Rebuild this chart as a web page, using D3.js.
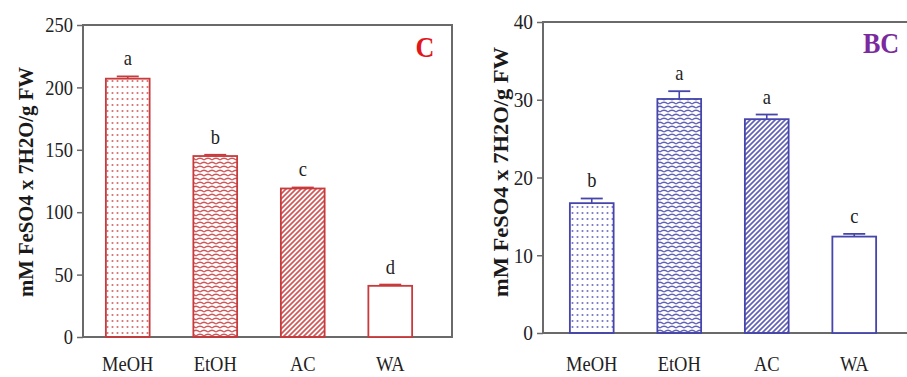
<!DOCTYPE html>
<html><head><meta charset="utf-8">
<script src="https://cdn.jsdelivr.net/npm/d3@7/dist/d3.min.js"></script>
<style>html,body{margin:0;padding:0;background:#fff}svg{display:block}</style>
</head><body>
<svg id="chart" width="907" height="377"></svg>
<script>
const categories = ["MeOH", "EtOH", "AC", "WA"];
const valuesC = [207, 145, 119, 41];
const errorsC = [1.8, 1.0, 0.8, 1.0];
const lettersC = ["a", "b", "c", "d"];
const ticksC = [0, 50, 100, 150, 200, 250];
const valuesBC = [16.7, 30.1, 27.5, 12.4];
const errorsBC = [0.6, 1.0, 0.6, 0.35];
const lettersBC = ["b", "a", "a", "c"];
const ticksBC = [0, 10, 20, 30, 40];
const patternNames = ["dots", "scales", "hatch", "none"];
const yTitle = "mM FeSO4 x 7H2O/g FW";

const svg = d3.select("#chart");
const defs = svg.append("defs");
const SERIF = "'Liberation Serif','Times New Roman',serif";

function makePatterns(id, color) {
  const d = defs.append("pattern").attr("id", id + "-dots").attr("patternUnits", "userSpaceOnUse")
    .attr("width", 5).attr("height", 6);
  d.append("circle").attr("cx", 2.5).attr("cy", 3).attr("r", 1.05).attr("fill", color).attr("opacity", 0.75);
  const s = defs.append("pattern").attr("id", id + "-scales").attr("patternUnits", "userSpaceOnUse")
    .attr("width", 8).attr("height", 8);
  s.append("path").attr("d", "M0,4 Q4,0.5 8,4 M-4,8 Q0,4.5 4,8 M4,8 Q8,4.5 12,8 M-4,0 Q0,-3.5 4,0 M4,0 Q8,-3.5 12,0")
    .attr("fill", "none").attr("stroke", color).attr("stroke-width", 1.3).attr("opacity", 0.85);
  const h = defs.append("pattern").attr("id", id + "-hatch").attr("patternUnits", "userSpaceOnUse")
    .attr("width", 5).attr("height", 5);
  h.append("path").attr("d", "M-1,6 L6,-1 M-1,1 L1,-1 M4,6 L6,4")
    .attr("stroke", color).attr("stroke-width", 1.7).attr("opacity", 0.85);
}
makePatterns("red", "#c83a3c");
makePatterns("blue", "#4545ac");

function sText(g, x, y, txt, size, opts = {}) {
  const t = g.append("text")
    .attr("transform", `translate(${x},${y}) scale(${opts.sx || 0.88},1)`)
    .attr("font-family", SERIF).attr("font-size", size)
    .attr("font-weight", opts.bold ? "bold" : "normal")
    .attr("text-anchor", opts.anchor || "middle")
    .attr("fill", opts.fill || "#222")
    .text(txt);
  return t;
}

function panel(cfg) {
  const g = svg.append("g");
  const x = d3.scaleBand().domain(categories).range(cfg.xRange).paddingInner(0.5).paddingOuter(0.25);
  const y = d3.scaleLinear().domain([0, cfg.ticks[cfg.ticks.length - 1]]).range([cfg.bottom, cfg.top]);
  const frameColor = "#6a6a6a";
  g.append("rect").attr("x", cfg.left).attr("y", cfg.top)
    .attr("width", cfg.right - cfg.left).attr("height", cfg.bottom - cfg.top)
    .attr("fill", "none").attr("stroke", frameColor).attr("stroke-width", 2);
  const ax = g.append("g").attr("transform", `translate(${cfg.left},0)`)
    .call(d3.axisLeft(y).tickValues(cfg.ticks).tickSize(6).tickFormat(""));
  ax.select(".domain").remove();
  ax.selectAll("line").attr("stroke", frameColor).attr("stroke-width", 1.5);
  cfg.ticks.forEach(t => {
    sText(g, cfg.left - 10, y(t) + cfg.tickFont * 0.34, String(t), cfg.tickFont, { anchor: "end" });
  });
  categories.forEach((c, i) => {
    const v = cfg.values[i];
    const bx = x(c), bw = x.bandwidth();
    const pat = patternNames[i];
    g.append("rect").attr("x", bx).attr("y", y(v)).attr("width", bw).attr("height", y(0) - y(v))
      .attr("fill", pat === "none" ? "#fff" : `url(#${cfg.pid}-${pat})`)
      .attr("stroke", cfg.color).attr("stroke-width", 1.8);
    const cx = bx + bw / 2;
    const ye = y(v + cfg.errors[i]);
    g.append("line").attr("x1", cx).attr("x2", cx).attr("y1", y(v)).attr("y2", ye)
      .attr("stroke", cfg.color).attr("stroke-width", 1.6);
    g.append("line").attr("x1", cx - 11).attr("x2", cx + 11).attr("y1", ye).attr("y2", ye)
      .attr("stroke", cfg.color).attr("stroke-width", 1.8);
    sText(g, cx, ye - 11, cfg.letters[i], 21);
    sText(g, cx, 371, c, 21);
  });
  g.append("text")
    .attr("transform", `translate(${cfg.titleX},${cfg.titleY}) rotate(-90)`)
    .attr("font-family", SERIF).attr("font-size", 22).attr("font-weight", "bold")
    .attr("text-anchor", "middle").attr("fill", "#1a1a1a")
    .attr("textLength", cfg.titleLen).attr("lengthAdjust", "spacingAndGlyphs")
    .text(yTitle);
  sText(g, cfg.labelX, cfg.labelY, cfg.label, 29, { bold: true, fill: cfg.labelColor, sx: 0.9 });
}

panel({
  pid: "red", color: "#c83a3c", values: valuesC, errors: errorsC, letters: lettersC, ticks: ticksC,
  left: 83, right: 452, top: 25, bottom: 337, xRange: [84, 434], tickFont: 21,
  titleX: 33, titleY: 182, titleLen: 230, label: "C", labelColor: "#e3161c", labelX: 425, labelY: 57
});
panel({
  pid: "blue", color: "#4545ac", values: valuesBC, errors: errorsBC, letters: lettersBC, ticks: ticksBC,
  left: 543, right: 930, top: 22, bottom: 333, xRange: [548, 898], tickFont: 22,
  titleX: 508, titleY: 172, titleLen: 250, label: "BC", labelColor: "#7a2a9e", labelX: 881, labelY: 53
});
</script>
</body></html>
